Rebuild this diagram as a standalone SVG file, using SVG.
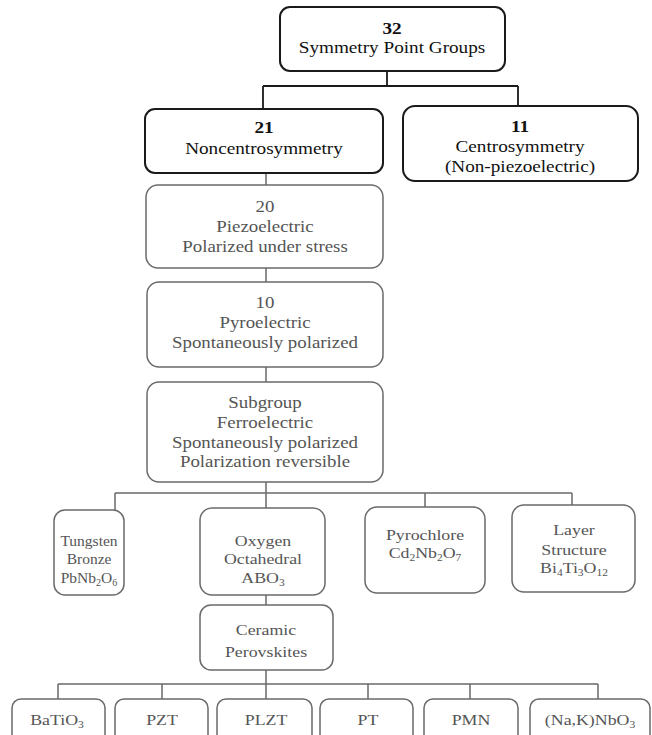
<svg xmlns="http://www.w3.org/2000/svg" width="652" height="735" viewBox="0 0 652 735">
<style>
rect.top{fill:#fff;stroke:#1a1a1a;stroke-width:2}
rect.box{fill:#fff;stroke:#6a6a6a;stroke-width:1.5}
text{font-family:"Liberation Serif","Times New Roman",serif;text-anchor:middle}
text.tt{font-size:16px;fill:#111}
text.tb{font-size:16px;fill:#111;font-weight:bold}
text.m{font-size:16px;fill:#555}
text.l{font-size:15.5px;fill:#555}
tspan.s{font-size:10px}
.c1{fill:none;stroke:#1a1a1a;stroke-width:1.8}
.c2{fill:none;stroke:#6a6a6a;stroke-width:1.5}
</style>
<rect width="652" height="735" fill="#fff"/>
<g id="connectors">
<path class="c1" d="M387,71V86M263,86H518M263,86V109M518,86V106"/>
<path class="c2" d="M266,173V185M266,268V282M266,367V382M266,482V508M115,493H572M115,493V510M425,493V507M572,493V505M266,595V605M266,670V699M58,684H598M58,684V699M162,684V699M368,684V699M470,684V699M598,684V699"/>
</g>
<g id="n32">
<rect class="top" x="280" y="7" width="225" height="64" rx="10"/>
<text class="tb" transform="translate(392,34) scale(1.2,1)">32</text>
<text class="tt" transform="translate(392,53) scale(1.2,1)">Symmetry Point Groups</text>
</g>
<g id="n21">
<rect class="top" x="145" y="109" width="238" height="64" rx="10"/>
<text class="tb" transform="translate(264,133) scale(1.2,1)">21</text>
<text class="tt" transform="translate(264,154) scale(1.2,1)">Noncentrosymmetry</text>
</g>
<g id="n11">
<rect class="top" x="403" y="106" width="235" height="75" rx="12"/>
<text class="tb" transform="translate(520,132) scale(1.2,1)">11</text>
<text class="tt" transform="translate(520,152) scale(1.2,1)">Centrosymmetry</text>
<text class="tt" transform="translate(520,172) scale(1.2,1)">(Non-piezoelectric)</text>
</g>
<g id="n20">
<rect class="box" x="146" y="185" width="237" height="83" rx="12"/>
<text class="m" transform="translate(265,212) scale(1.18,1)">20</text>
<text class="m" transform="translate(265,232) scale(1.18,1)">Piezoelectric</text>
<text class="m" transform="translate(265,252) scale(1.18,1)">Polarized under stress</text>
</g>
<g id="n10">
<rect class="box" x="147" y="282" width="236" height="85" rx="12"/>
<text class="m" transform="translate(265,308) scale(1.18,1)">10</text>
<text class="m" transform="translate(265,328) scale(1.18,1)">Pyroelectric</text>
<text class="m" transform="translate(265,348) scale(1.18,1)">Spontaneously polarized</text>
</g>
<g id="nsub">
<rect class="box" x="147" y="382" width="236" height="100" rx="12"/>
<text class="m" transform="translate(265,408) scale(1.18,1)">Subgroup</text>
<text class="m" transform="translate(265,428) scale(1.18,1)">Ferroelectric</text>
<text class="m" transform="translate(265,448) scale(1.18,1)">Spontaneously polarized</text>
<text class="m" transform="translate(265,467) scale(1.18,1)">Polarization reversible</text>
</g>
<g id="ntungsten">
<rect class="box" x="54" y="510" width="70" height="85" rx="11"/>
<text class="l" transform="translate(89,546) scale(1,1)">Tungsten</text>
<text class="l" transform="translate(89,564) scale(1,1)">Bronze</text>
<text class="l" transform="translate(89,583) scale(1,1)">PbNb<tspan class="s" dy="3">2</tspan><tspan dy="-3">O</tspan><tspan class="s" dy="3">6</tspan></text>
</g>
<g id="noxygen">
<rect class="box" x="200" y="508" width="125" height="87" rx="12"/>
<text class="l" transform="translate(263,546) scale(1.15,1)">Oxygen</text>
<text class="l" transform="translate(263,564) scale(1.15,1)">Octahedral</text>
<text class="l" transform="translate(263,583) scale(1.15,1)">ABO<tspan class="s" dy="3">3</tspan></text>
</g>
<g id="npyrochlore">
<rect class="box" x="365" y="507" width="120" height="86" rx="12"/>
<text class="l" transform="translate(425,540) scale(1.15,1)">Pyrochlore</text>
<text class="l" transform="translate(425,558) scale(1.15,1)">Cd<tspan class="s" dy="3">2</tspan><tspan dy="-3">Nb</tspan><tspan class="s" dy="3">2</tspan><tspan dy="-3">O</tspan><tspan class="s" dy="3">7</tspan></text>
</g>
<g id="nlayer">
<rect class="box" x="512" y="505" width="123" height="87" rx="12"/>
<text class="l" transform="translate(574,535) scale(1.15,1)">Layer</text>
<text class="l" transform="translate(574,555) scale(1.15,1)">Structure</text>
<text class="l" transform="translate(574,573) scale(1.15,1)">Bi<tspan class="s" dy="3">4</tspan><tspan dy="-3">Ti</tspan><tspan class="s" dy="3">3</tspan><tspan dy="-3">O</tspan><tspan class="s" dy="3">12</tspan></text>
</g>
<g id="nceramic">
<rect class="box" x="200" y="605" width="133" height="65" rx="11"/>
<text class="l" transform="translate(266,635) scale(1.15,1)">Ceramic</text>
<text class="l" transform="translate(266,657) scale(1.15,1)">Perovskites</text>
</g>
<g id="nbatio3">
<rect class="box" x="12" y="699" width="93" height="50" rx="9"/>
<text class="l" transform="translate(57,725) scale(1.15,1)">BaTiO<tspan class="s" dy="3">3</tspan></text>
</g>
<g id="npzt">
<rect class="box" x="115" y="699" width="93" height="50" rx="9"/>
<text class="l" transform="translate(162,725) scale(1.15,1)">PZT</text>
</g>
<g id="nplzt">
<rect class="box" x="217" y="699" width="95" height="50" rx="9"/>
<text class="l" transform="translate(266,725) scale(1.15,1)">PLZT</text>
</g>
<g id="npt">
<rect class="box" x="320" y="699" width="93" height="50" rx="9"/>
<text class="l" transform="translate(368,725) scale(1.15,1)">PT</text>
</g>
<g id="npmn">
<rect class="box" x="424" y="699" width="94" height="50" rx="9"/>
<text class="l" transform="translate(471,725) scale(1.15,1)">PMN</text>
</g>
<g id="nnak">
<rect class="box" x="530" y="699" width="120" height="50" rx="9"/>
<text class="l" transform="translate(590,725) scale(1.15,1)">(Na,K)NbO<tspan class="s" dy="3">3</tspan></text>
</g>
</svg>
